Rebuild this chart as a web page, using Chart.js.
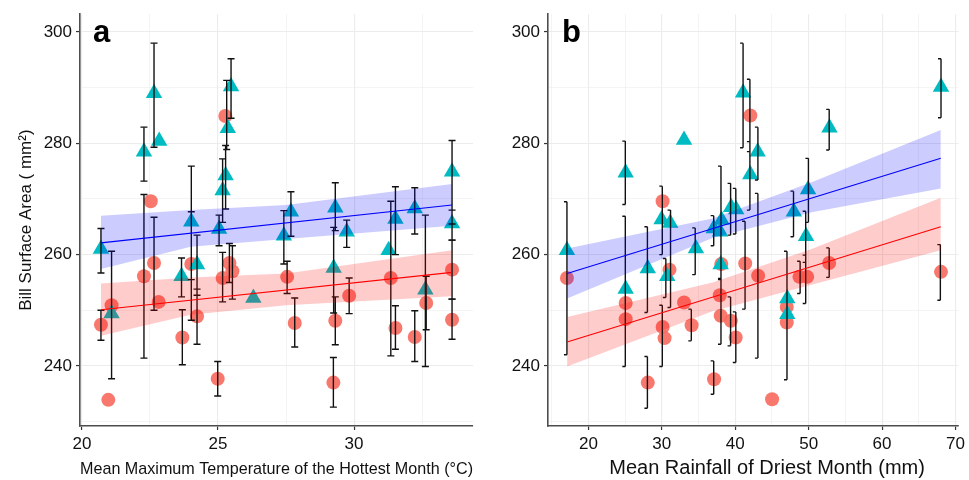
<!DOCTYPE html>
<html>
<head>
<meta charset="utf-8">
<script src="https://cdn.jsdelivr.net/npm/chart.js@4.4.1/dist/chart.umd.min.js"></script>
<style>
  body { margin: 0; background: #fff; }
  #wrap { position: relative; width: 969px; height: 480px; overflow: hidden; }
  #left { position: absolute; left: 0; top: 0; }
  #right { position: absolute; left: 480px; top: 0; }
</style>
</head>
<body>
<div id="wrap">
  <canvas id="left" width="500" height="480"></canvas>
  <canvas id="right" width="489" height="480"></canvas>
</div>
<script>
// ---- panel a: temperature ----
const leftCircleX = [20.70, 21.09, 20.97, 22.28, 22.53, 22.65, 22.82, 23.69, 24.02, 24.23, 24.99, 25.17, 25.27, 25.42, 25.53, 27.54, 27.82, 29.24, 29.31, 29.82, 31.35, 31.52, 32.23, 32.65, 33.60, 33.60];
const leftCircleY = [247.4, 250.9, 233.9, 256.1, 269.6, 258.5, 251.5, 245.1, 258.3, 248.9, 237.7, 255.8, 284.9, 258.5, 257.0, 256.0, 247.7, 237.0, 248.1, 252.6, 255.8, 246.8, 245.2, 251.3, 257.3, 248.3];
const leftTriX = [20.70, 21.09, 22.28, 22.65, 22.84, 23.66, 24.02, 24.23, 25.04, 25.17, 25.28, 25.36, 25.48, 26.30, 27.42, 27.68, 29.25, 29.31, 29.73, 31.27, 31.52, 32.23, 32.62, 33.60, 33.60];
const leftTriY = [261.0, 249.4, 278.5, 289.0, 280.4, 256.1, 265.9, 258.2, 264.6, 271.5, 274.2, 282.7, 290.2, 252.2, 263.4, 267.7, 257.6, 268.4, 264.1, 260.8, 266.4, 268.3, 253.7, 274.9, 265.6];
const leftBarX  = [20.70, 20.70, 21.09, 22.28, 22.28, 22.65, 22.65, 23.66, 23.69, 24.02, 24.02, 24.23, 24.23, 24.99, 25.04, 25.17, 25.17, 25.28, 25.32, 25.48, 25.42, 25.53, 27.42, 27.68, 27.54, 27.82, 29.24, 29.31, 29.25, 29.31, 29.73, 29.82, 31.35, 31.52, 31.52, 32.23, 32.23, 32.62, 32.65, 33.60, 33.60, 33.60, 33.60];
const leftBarLo = [256.7, 244.6, 237.7, 273.2, 241.4, 279.3, 250.0, 252.4, 240.2, 255.5, 248.2, 252.7, 243.9, 234.6, 261.6, 251.5, 265.8, 268.2, 278.9, 284.5, 255.0, 252.0, 258.3, 263.3, 253.0, 243.4, 232.6, 243.8, 249.5, 264.3, 261.3, 249.4, 241.8, 260.0, 243.0, 263.7, 240.8, 239.9, 246.5, 265.5, 262.6, 252.0, 244.8];
const leftBarHi = [264.7, 250.0, 260.6, 282.9, 270.8, 298.0, 266.7, 259.4, 250.1, 275.9, 267.7, 263.5, 253.8, 240.8, 267.1, 260.4, 277.2, 279.6, 291.3, 295.2, 262.0, 261.6, 267.9, 271.3, 258.8, 252.2, 241.5, 252.4, 264.9, 272.9, 266.2, 255.8, 269.6, 272.2, 250.8, 272.0, 249.9, 267.1, 256.1, 280.5, 268.0, 262.6, 252.0];
const leftBandX = [20.7, 24.0, 27.5, 33.6];
const leftBlueUpper = [267.0, 268.0, 268.9, 272.7];
const leftBlueLower = [257.4, 261.4, 262.8, 265.2];
const leftRedUpper = [254.8, 255.9, 256.6, 260.8];
const leftRedLower = [245.4, 249.2, 250.9, 252.5];
const leftFitX = [20.7, 33.6];
const leftBlueFit = [262.1, 268.9];
const leftRedFit = [250.1, 256.8];
const leftXTicks = [20, 22.5, 25, 27.5, 30, 32.5];

// ---- panel b: rainfall ----
const rightCircleX = [17.08, 25.08, 25.08, 28.09, 30.11, 30.11, 30.38, 31.05, 33.03, 34.06, 37.12, 37.90, 38.02, 38.10, 39.40, 40.06, 41.36, 42.06, 43.12, 45.02, 47.02, 47.02, 48.75, 49.80, 52.79, 68.03];
const rightCircleY = [255.8, 251.3, 248.4, 237.0, 269.6, 247.0, 245.0, 257.3, 251.4, 247.3, 237.6, 252.7, 249.0, 258.3, 248.1, 245.1, 258.4, 285.0, 256.2, 234.0, 250.6, 247.8, 256.0, 256.0, 258.5, 256.9];
const rightTriX = [17.08, 25.08, 25.08, 28.09, 29.97, 31.14, 30.74, 33.03, 34.65, 37.07, 38.15, 37.93, 38.02, 39.45, 40.13, 41.07, 42.06, 43.05, 47.09, 47.09, 47.99, 49.65, 49.92, 52.84, 68.03];
const rightTriY = [260.8, 274.7, 253.8, 257.5, 266.3, 265.7, 256.1, 280.6, 261.1, 264.7, 266.2, 264.1, 258.2, 268.5, 268.1, 289.1, 274.4, 278.5, 252.1, 249.3, 267.7, 263.3, 271.7, 282.8, 290.1];
const rightBarX  = [17.08, 25.03, 25.03, 28.04, 28.04, 30.07, 30.07, 30.55, 31.19, 34.02, 34.55, 37.07, 37.07, 38.06, 38.06, 39.37, 39.37, 40.08, 40.08, 41.34, 41.07, 42.00, 42.00, 43.09, 43.09, 47.05, 47.94, 48.84, 49.60, 49.60, 49.97, 52.80, 52.80, 67.94, 68.03];
const rightBarLo = [242.0, 269.0, 239.9, 249.6, 232.4, 260.0, 239.9, 252.3, 250.5, 244.5, 256.4, 234.9, 261.6, 255.5, 243.9, 263.5, 243.6, 263.7, 240.6, 250.2, 279.2, 278.5, 268.0, 273.4, 241.4, 237.5, 263.2, 253.0, 258.6, 251.2, 265.8, 278.8, 255.9, 251.8, 284.6];
const rightBarHi = [269.5, 280.4, 266.9, 265.0, 241.7, 272.3, 250.9, 259.3, 268.0, 250.2, 264.8, 240.9, 267.0, 275.9, 255.7, 272.8, 252.4, 271.9, 249.7, 266.0, 298.0, 291.5, 280.3, 282.9, 271.0, 260.6, 271.4, 258.8, 267.8, 259.9, 277.3, 286.1, 261.2, 261.8, 295.2];
const rightBandX = [17.1, 36.9, 50.4, 68.0];
const rightBlueUpper = [261.1, 266.5, 273.0, 282.4];
const rightBlueLower = [252.1, 263.0, 267.6, 271.9];
const rightRedUpper = [248.8, 255.0, 261.0, 270.2];
const rightRedLower = [239.9, 249.8, 254.6, 260.8];
const rightFitX = [17.1, 68.0];
const rightBlueFit = [256.6, 277.3];
const rightRedFit = [244.3, 265.0];
const rightXTicks = [15, 20, 25, 30, 35, 40, 45, 50, 55, 60, 65, 70];

const yTicks = [230, 240, 250, 260, 270, 280, 290, 300];

const FONT = '"Liberation Sans", Arial, sans-serif';
const pts = (xs, ys) => xs.map((x, i) => ({ x: x, y: ys[i] }));
function bars(xs, lo, hi) {
  const out = [];
  xs.forEach((x, i) => {
    out.push({ x: x, y: lo[i] }, { x: x, y: hi[i] }, { x: x, y: null });
  });
  return out;
}

const panelLetter = {
  id: 'panelLetter',
  afterDraw(chart, args, opts) {
    const ctx = chart.ctx;
    ctx.save();
    ctx.font = 'bold 31px ' + FONT;
    ctx.fillStyle = '#000';
    ctx.textBaseline = 'alphabetic';
    ctx.fillText(opts.text, chart.chartArea.left + opts.dx, chart.chartArea.top + 28);
    ctx.restore();
  }
};

function makeChart(id, cfg) {
  const isMajorX = v => v % cfg.majorStep === 0;
  const isMajorY = v => v % 20 === 0;
  const gridFor = major => ({
    color: '#ececec',
    lineWidth: c => (c.tick && major(c.tick.value)) ? 1.1 : 0.6,
    drawTicks: true,
    tickLength: 4,
    tickColor: c => (c.tick && major(c.tick.value)) ? '#333' : 'rgba(0,0,0,0)',
    tickWidth: 1.2
  });
  return new Chart(document.getElementById(id), {
    type: 'scatter',
    data: {
      datasets: [
        { data: pts(cfg.circleX, cfg.circleY), pointStyle: 'circle', pointRadius: 7,
          pointBackgroundColor: 'rgba(248,108,98,0.92)', pointBorderWidth: 0, order: 6 },
        { data: pts(cfg.triX, cfg.triY), pointStyle: 'triangle', pointRadius: 9.5,
          pointBackgroundColor: '#00bcc2', pointBorderWidth: 0, order: 5 },
        { data: bars(cfg.barX, cfg.barLo, cfg.barHi), showLine: true, spanGaps: false,
          borderColor: '#111', borderWidth: 1.4, pointStyle: cfg.capStyle, pointRotation: cfg.capRot,
          pointRadius: cfg.capR, pointBorderColor: '#111', pointBorderWidth: 1.4, order: 4 },
        { data: pts(cfg.bandX, cfg.blueUp), showLine: true, borderColor: 'rgba(0,0,0,0)',
          pointRadius: 0, fill: false, order: 3 },
        { data: pts(cfg.bandX, cfg.blueLo), showLine: true, borderColor: 'rgba(0,0,0,0)',
          pointRadius: 0, fill: '-1', backgroundColor: 'rgba(0,0,255,0.2)', order: 3 },
        { data: pts(cfg.bandX, cfg.redUp), showLine: true, borderColor: 'rgba(0,0,0,0)',
          pointRadius: 0, fill: false, order: 3 },
        { data: pts(cfg.bandX, cfg.redLo), showLine: true, borderColor: 'rgba(0,0,0,0)',
          pointRadius: 0, fill: '-1', backgroundColor: 'rgba(255,0,0,0.2)', order: 3 },
        { data: pts(cfg.fitX, cfg.blueFit), showLine: true, borderColor: '#0000ff',
          borderWidth: 1.1, pointRadius: 0, order: 1 },
        { data: pts(cfg.fitX, cfg.redFit), showLine: true, borderColor: '#ff0000',
          borderWidth: 1.1, pointRadius: 0, order: 1 }
      ]
    },
    options: {
      responsive: false,
      animation: false,
      layout: { padding: { left: 0, top: 12, right: cfg.padRight, bottom: 0 } },
      plugins: {
        legend: { display: false },
        tooltip: { enabled: false },
        panelLetter: { text: cfg.letter, dx: cfg.letterDx }
      },
      scales: {
        x: {
          type: 'linear', min: cfg.xMin, max: cfg.xMax,
          afterBuildTicks: s => { s.ticks = cfg.xTicks.map(v => ({ value: v })); },
          afterFit: s => { s.height = 54; },
          grid: gridFor(isMajorX),
          border: { display: true, color: '#4d4d4d', width: 1.6 },
          ticks: { autoSkip: false, maxRotation: 0, padding: 4, color: '#111',
                   font: { family: FONT, size: 17 },
                   callback: v => isMajorX(v) ? String(v) : '' },
          title: { display: true, text: cfg.xTitle, color: '#111',
                   font: { family: FONT, size: cfg.xTitleSize }, padding: { top: cfg.xTitlePad, bottom: 0 } }
        },
        y: {
          type: 'linear', min: 229.2, max: 303.2,
          afterBuildTicks: s => { s.ticks = yTicks.map(v => ({ value: v })); },
          afterFit: s => { s.width = cfg.yWidth; },
          grid: gridFor(isMajorY),
          border: { display: true, color: '#4d4d4d', width: 1.6 },
          ticks: { autoSkip: false, padding: 4, color: '#111',
                   font: { family: FONT, size: 17 },
                   callback: v => isMajorY(v) ? String(v) : '' },
          title: { display: cfg.yTitle !== '', text: cfg.yTitle, color: '#111',
                   font: { family: FONT, size: 17 }, padding: { top: 16, bottom: 0 } }
        }
      }
    },
    plugins: [panelLetter]
  });
}

makeChart('left', {
  circleX: leftCircleX, circleY: leftCircleY, triX: leftTriX, triY: leftTriY,
  barX: leftBarX, barLo: leftBarLo, barHi: leftBarHi, capStyle: 'line', capRot: 0, capR: 3.5,
  bandX: leftBandX, blueUp: leftBlueUpper, blueLo: leftBlueLower, redUp: leftRedUpper, redLo: leftRedLower,
  fitX: leftFitX, blueFit: leftBlueFit, redFit: leftRedFit,
  xMin: 19.93, xMax: 34.37, xTicks: leftXTicks, majorStep: 5, padRight: 27, yWidth: 80,
  xTitle: 'Mean Maximum Temperature of the Hottest Month (°C)', xTitleSize: 17, xTitlePad: 2,
  yTitle: 'Bill Surface Area ( mm²)', letter: 'a', letterDx: 13
});

makeChart('right', {
  circleX: rightCircleX, circleY: rightCircleY, triX: rightTriX, triY: rightTriY,
  barX: rightBarX, barLo: rightBarLo, barHi: rightBarHi, capStyle: 'dash', capRot: 180, capR: 3,
  bandX: rightBandX, blueUp: rightBlueUpper, blueLo: rightBlueLower, redUp: rightRedUpper, redLo: rightRedLower,
  fitX: rightFitX, blueFit: rightBlueFit, redFit: rightRedFit,
  xMin: 14.5, xMax: 70.4, xTicks: rightXTicks, majorStep: 10, padRight: 6, yWidth: 68,
  xTitle: '     Mean Rainfall of Driest Month (mm)', xTitleSize: 20, xTitlePad: 0,
  yTitle: '', letter: 'b', letterDx: 14
});
</script>
</body>
</html>
